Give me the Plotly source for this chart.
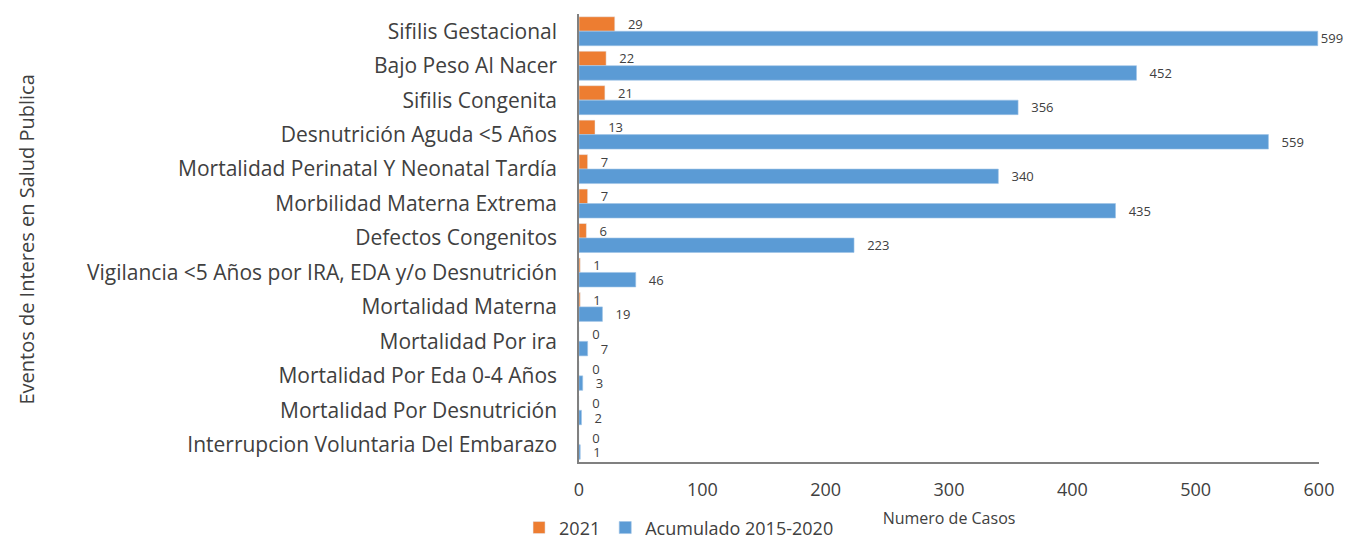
import plotly.graph_objects as go

# eventos de interes en salud publica, casos 2021 vs acumulado 2015-2020
eventos = [
    "Sifilis Gestacional",
    "Bajo Peso Al Nacer",
    "Sifilis Congenita",
    "Desnutrición Aguda <5 Años",
    "Mortalidad Perinatal Y Neonatal Tardía",
    "Morbilidad Materna Extrema",
    "Defectos Congenitos",
    "Vigilancia <5 Años por IRA, EDA y/o Desnutrición",
    "Mortalidad Materna",
    "Mortalidad Por ira",
    "Mortalidad Por Eda 0-4 Años",
    "Mortalidad Por Desnutrición",
    "Interrupcion Voluntaria Del Embarazo",
]
casos_2021 = [29, 22, 21, 13, 7, 7, 6, 1, 1, 0, 0, 0, 0]
acumulado_2015_2020 = [599, 452, 356, 559, 340, 435, 223, 46, 19, 7, 3, 2, 1]

FONT = "Open Sans"
GRIS = "#404040"
PAD = "\u00a0\u00a0\u00a0"


def etiquetas(valores):
    # un poco de aire entre la barra y el numero, salvo al borde del eje
    return [str(v) if v > 580 else PAD + str(v) for v in valores]


fig = go.Figure()
fig.add_trace(go.Bar(
    y=eventos, x=casos_2021, orientation="h", name="2021",
    marker=dict(color="#ED7D31"),
    text=etiquetas(casos_2021), textposition="outside", cliponaxis=False,
    constraintext="none",
    textfont=dict(size=13, color=GRIS, family=FONT),
))
fig.add_trace(go.Bar(
    y=eventos, x=acumulado_2015_2020, orientation="h", name="Acumulado 2015-2020",
    marker=dict(color="#5B9BD5", line=dict(color="#9DC3E6", width=0.6)),
    text=etiquetas(acumulado_2015_2020), textposition="outside", cliponaxis=False,
    constraintext="none",
    textfont=dict(size=13, color=GRIS, family=FONT),
))

# la pagina deja 8 px de margen alrededor de la figura
fig.update_layout(
    width=1344, height=533,
    margin=dict(l=571, r=33, t=6, b=79, autoexpand=False),
    barmode="group", bargap=0.16, bargroupgap=0,
    plot_bgcolor="white", paper_bgcolor="white",
    font=dict(family=FONT, color=GRIS),
    legend=dict(
        orientation="h", x=-0.081, xanchor="left", y=-0.147, yanchor="middle",
        font=dict(size=18, color=GRIS), itemwidth=30, traceorder="normal",
    ),
    annotations=[dict(
        text="Eventos de Interes en Salud Publica", textangle=-90,
        xref="paper", yref="paper", x=-0.7466, y=0.4955,
        xanchor="center", yanchor="middle",
        showarrow=False, font=dict(size=20, color=GRIS),
    )],
)
fig.update_xaxes(
    range=[0, 600], dtick=100, showgrid=False, zeroline=False, automargin=False,
    showline=True, linecolor="#808080", linewidth=1.5,
    tickfont=dict(size=18, color=GRIS), ticks="", ticklabelstandoff=11,
    title=dict(text="Numero de Casos", font=dict(size=16, color=GRIS), standoff=12),
)
fig.update_yaxes(
    autorange="reversed", showgrid=False, zeroline=False, automargin=False,
    showline=True, linecolor="#808080", linewidth=1.5,
    tickfont=dict(size=21, color=GRIS), ticks="", ticklabelstandoff=16,
)

fig.write_html("out.html")
